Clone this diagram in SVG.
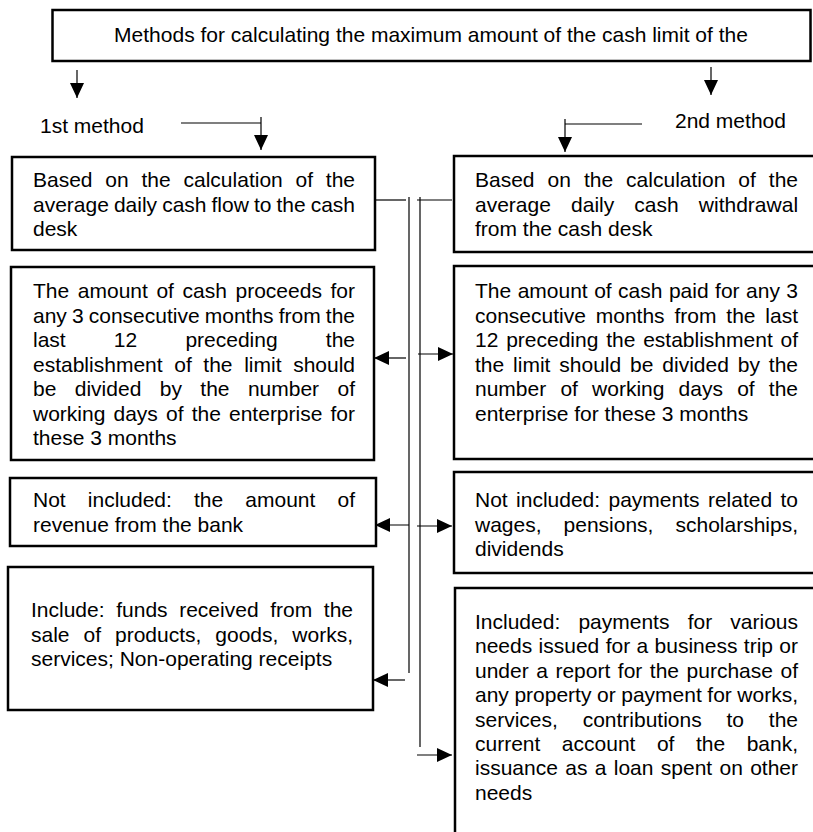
<svg xmlns="http://www.w3.org/2000/svg" width="813" height="832" viewBox="0 0 813 832">
<style>
.bx{fill:#fff;stroke:#000;stroke-width:2.5}
.t{font-family:"Liberation Sans",Arial,sans-serif;font-size:21px;fill:#000}
.c{fill:none;stroke:#000;stroke-width:1.2}
</style>
<defs>
<marker id="ah" markerUnits="userSpaceOnUse" markerWidth="15" markerHeight="14" refX="15" refY="7" orient="auto">
<path d="M0,0 L15,7 L0,14 z" fill="#000"/>
</marker>
</defs>
<rect width="813" height="832" fill="#fff"/>

<g id="title">
<rect class="bx" x="52.5" y="10" width="758" height="51"/>
<text class="t" x="431" y="42" text-anchor="middle">Methods for calculating the maximum amount of the cash limit of the</text>
</g>

<g id="label1">
<text class="t" x="40" y="133">1st method</text>
</g>
<g id="label2">
<text class="t" x="675" y="128">2nd method</text>
</g>

<g id="left1">
<rect class="bx" x="12" y="157" width="363" height="93"/>
<text class="t" x="33" y="187" word-spacing="6.97">Based on the calculation of the</text>
<text class="t" x="33" y="211.5" word-spacing="-0.81">average daily cash flow to the cash</text>
<text class="t" x="33" y="236">desk</text>
</g>

<g id="left2">
<rect class="bx" x="11" y="267" width="363" height="193"/>
<text class="t" x="33" y="298" word-spacing="2.77">The amount of cash proceeds for</text>
<text class="t" x="33" y="322.5" word-spacing="-0.73">any 3 consecutive months from the</text>
<text class="t" x="33" y="347" word-spacing="42.35">last 12 preceding the</text>
<text class="t" x="33" y="371.5" word-spacing="5.8">establishment of the limit should</text>
<text class="t" x="33" y="396" word-spacing="12.57">be divided by the number of</text>
<text class="t" x="33" y="420.5" word-spacing="2.31">working days of the enterprise for</text>
<text class="t" x="33" y="445">these 3 months</text>
</g>

<g id="left3">
<rect class="bx" x="10" y="478" width="366" height="68"/>
<text class="t" x="33" y="507" word-spacing="16.3">Not included: the amount of</text>
<text class="t" x="33" y="531.5">revenue from the bank</text>
</g>

<g id="left4">
<rect class="bx" x="8" y="567" width="365" height="143"/>
<text class="t" x="31" y="617" word-spacing="5.8">Include: funds received from the</text>
<text class="t" x="31" y="641.5" word-spacing="8.13">sale of products, goods, works,</text>
<text class="t" x="31" y="666">services; Non-operating receipts</text>
</g>

<g id="right1">
<rect class="bx" x="454" y="156" width="380" height="96"/>
<text class="t" x="475" y="187" word-spacing="7.17">Based on the calculation of the</text>
<text class="t" x="475" y="211.5" word-spacing="14.3">average daily cash withdrawal</text>
<text class="t" x="475" y="236">from the cash desk</text>
</g>

<g id="right2">
<rect class="bx" x="454" y="266" width="380" height="193"/>
<text class="t" x="475" y="298" word-spacing="0.62">The amount of cash paid for any 3</text>
<text class="t" x="475" y="322.5" word-spacing="4.01">consecutive months from the last</text>
<text class="t" x="475" y="347" word-spacing="1.96">12 preceding the establishment of</text>
<text class="t" x="475" y="371.5" word-spacing="3.06">the limit should be divided by the</text>
<text class="t" x="475" y="396" word-spacing="8.34">number of working days of the</text>
<text class="t" x="475" y="420.5">enterprise for these 3 months</text>
</g>

<g id="right3">
<rect class="bx" x="454" y="472" width="380" height="101"/>
<text class="t" x="475" y="507" word-spacing="2.55">Not included: payments related to</text>
<text class="t" x="475" y="531.5" word-spacing="16.19">wages, pensions, scholarships,</text>
<text class="t" x="475" y="556">dividends</text>
</g>

<g id="right4">
<rect class="bx" x="455" y="588" width="380" height="260"/>
<text class="t" x="475" y="629" word-spacing="12.35">Included: payments for various</text>
<text class="t" x="475" y="653.4" word-spacing="0.53">needs issued for a business trip or</text>
<text class="t" x="475" y="677.8" word-spacing="1.69">under a report for the purchase of</text>
<text class="t" x="475" y="702.2" word-spacing="-0.29">any property or payment for works,</text>
<text class="t" x="475" y="726.6" word-spacing="18.96">services, contributions to the</text>
<text class="t" x="475" y="751" word-spacing="15.67">current account of the bank,</text>
<text class="t" x="475" y="775.4" word-spacing="1.5">issuance as a loan spent on other</text>
<text class="t" x="475" y="799.8">needs</text>
</g>

<g id="connectors">
<path class="c" d="M77,70 V98" marker-end="url(#ah)"/>
<path class="c" d="M711,67 V95" marker-end="url(#ah)"/>
<path class="c" d="M181,123 H261 M261,117 V150" marker-end="url(#ah)"/>
<path class="c" d="M642,124 H565 M565,119 V152" marker-end="url(#ah)"/>
<path class="c" d="M375,200 H406"/>
<path class="c" d="M409,197 V673"/>
<path class="c" d="M417,200 H452"/>
<path class="c" d="M420,197 V747"/>
<path class="c" d="M406,358 H374" marker-end="url(#ah)"/>
<path class="c" d="M409,525 H375" marker-end="url(#ah)"/>
<path class="c" d="M405,680 H373" marker-end="url(#ah)"/>
<path class="c" d="M418,354 H453" marker-end="url(#ah)"/>
<path class="c" d="M417,526 H452" marker-end="url(#ah)"/>
<path class="c" d="M417,755 H452" marker-end="url(#ah)"/>
</g>
</svg>
